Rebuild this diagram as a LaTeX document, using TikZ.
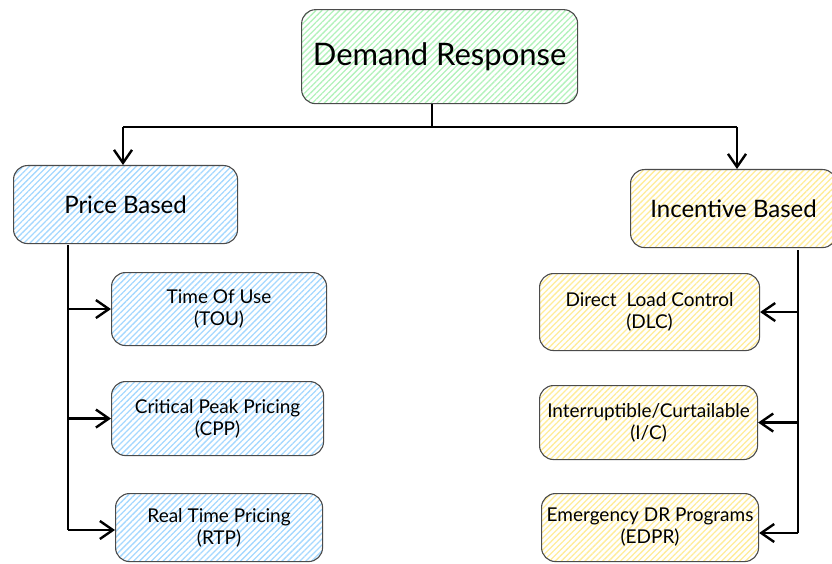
\documentclass[tikz,border=0pt]{standalone}
\usepackage{fontspec}
\setmainfont{Lato}
\usetikzlibrary{arrows.meta,patterns.meta}
\definecolor{ink}{HTML}{1E1E1E}
\definecolor{hatchgreen}{HTML}{B2F2BB}
\definecolor{hatchblue}{HTML}{A5D8FF}
\definecolor{hatchyellow}{HTML}{FFEC99}
\begin{document}
\begin{tikzpicture}[x=1pt,y=-1pt,
  box/.style={draw=ink!80, line width=1.1pt, rounded corners=14pt, align=center,
    inner sep=0pt, anchor=north west,
    pattern={Lines[angle=45,distance=4.2pt,line width=1.3pt]}},
  greenbox/.style={box, pattern color=hatchgreen},
  bluebox/.style={box, pattern color=hatchblue},
  yellowbox/.style={box, pattern color=hatchyellow},
  big/.style={font=\fontsize{31}{35}\selectfont},
  mid/.style={font=\fontsize{24}{28}\selectfont},
  small/.style={font=\fontsize{19}{22}\selectfont},
  conn/.style={draw=black, line width=2.8pt},
  arr/.style={conn, -{Straight Barb[length=13pt,width=18pt,line width=2.4pt]}}]
\useasboundingbox (0,0) rectangle (832,564);

% root
\node[greenbox, big, minimum width=276pt, minimum height=94pt] (dr) at (301,9) {Demand Response};

% two program families
\node[bluebox, mid, minimum width=224pt, minimum height=78pt] (pb) at (13,165) {Price Based};
\node[yellowbox, mid, minimum width=206pt, minimum height=78pt] (ib) at (630,169) {Incentive Based};

% price based programs
\node[bluebox, small, minimum width=215pt, minimum height=73pt] (tou) at (111,272) {Time Of Use\\(TOU)};
\node[bluebox, small, minimum width=212pt, minimum height=74pt] (cpp) at (111,381) {Critical Peak Pricing\\(CPP)};
\node[bluebox, small, minimum width=207pt, minimum height=68pt] (rtp) at (115,493) {Real Time Pricing\\(RTP)};

% incentive based programs
\node[yellowbox, small, minimum width=220pt, minimum height=77pt] (dlc) at (539,273) {Direct\ \ Load Control\\(DLC)};
\node[yellowbox, small, minimum width=218pt, minimum height=74pt] (ic) at (539,385) {Interruptible/Curtailable\\(I/C)};
\node[yellowbox, small, minimum width=217pt, minimum height=68pt] (edpr) at (541,493) {Emergency DR Programs\\(EDPR)};

% junction points of the tree
\coordinate (drj) at (432,127);
\coordinate (jl) at (123,127);
\coordinate (jr) at (737,127);
\coordinate (lt) at (68,245);
\coordinate (lb) at (68,530);
\coordinate (rt) at (798,250);
\coordinate (rb) at (798,533);

% root to families
\draw[conn] (dr.south -| drj) -- (drj);
\draw[conn] (jl) -- (jr);
\draw[arr] (jl) -- (jl |- pb.north);
\draw[arr] (jr) -- (jr |- ib.north);

% price based branch
\draw[conn] (lt) -- (lb);
\draw[arr] (lt |- tou.west) -- (tou.west);
\draw[arr] (lt |- cpp.west) -- (cpp.west);
\draw[arr] (lb) -- (lb -| rtp.west);

% incentive based branch
\draw[conn] (rt) -- (rb);
\draw[arr] (rt |- dlc.east) -- (dlc.east);
\draw[arr] (rt |- ic.east) -- (ic.east);
\draw[arr] (rb) -- (rb -| edpr.east);
\end{tikzpicture}
\end{document}
